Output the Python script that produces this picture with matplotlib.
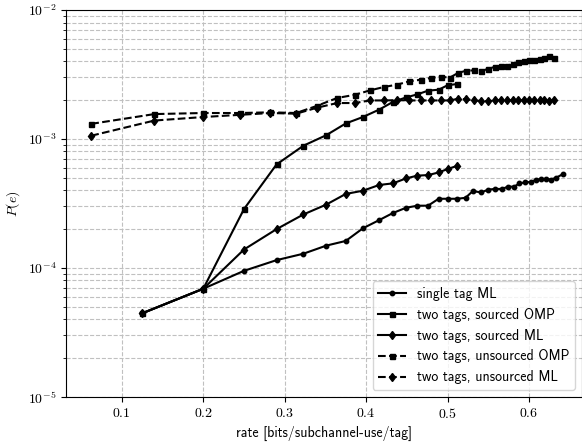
import matplotlib
matplotlib.use('Agg')
import matplotlib.pyplot as plt

plt.rcParams['font.family'] = 'serif'
plt.rcParams['font.serif'] = ['cmr10']
plt.rcParams['mathtext.fontset'] = 'cm'
plt.rcParams['axes.formatter.use_mathtext'] = True

# single tag ML
r_single = [0.125, 0.2, 0.25, 0.29, 0.323, 0.351, 0.375, 0.396, 0.416, 0.433, 0.449,
            0.463, 0.476, 0.489, 0.500, 0.512, 0.522, 0.531, 0.541, 0.550, 0.558,
            0.567, 0.574, 0.582, 0.588, 0.595, 0.602, 0.608, 0.615, 0.621, 0.627,
            0.633, 0.642]
p_single = [4.45e-5, 6.9e-5, 9.5e-5, 1.15e-4, 1.29e-4, 1.49e-4, 1.62e-4, 2.03e-4, 2.35e-4,
            2.67e-4, 2.93e-4, 3.04e-4, 3.04e-4, 3.44e-4, 3.44e-4, 3.44e-4, 3.5e-4, 3.95e-4,
            3.85e-4, 4.05e-4, 4.1e-4, 4.1e-4, 4.27e-4, 4.27e-4, 4.53e-4, 4.6e-4, 4.65e-4,
            4.8e-4, 4.9e-4, 4.9e-4, 4.85e-4, 5.0e-4, 5.36e-4]

# two tags, sourced
r_src = [0.125, 0.2, 0.25, 0.29, 0.323, 0.351, 0.375, 0.396, 0.416, 0.433, 0.449,
         0.463, 0.476, 0.489, 0.500, 0.512]
p_src_omp = [4.45e-5, 6.9e-5, 2.86e-4, 6.35e-4, 8.87e-4, 1.07e-3, 1.32e-3, 1.48e-3, 1.69e-3,
             1.94e-3, 2.1e-3, 2.22e-3, 2.37e-3, 2.41e-3, 2.61e-3, 2.67e-3]
p_src_ml = [4.45e-5, 6.9e-5, 1.39e-4, 2.0e-4, 2.6e-4, 3.1e-4, 3.75e-4, 3.97e-4, 4.4e-4,
            4.53e-4, 4.95e-4, 5.2e-4, 5.25e-4, 5.5e-4, 5.85e-4, 6.2e-4]

# two tags, unsourced
r_uns = [0.0625, 0.14, 0.2, 0.2455, 0.2824, 0.314, 0.34, 0.3644, 0.386, 0.4046, 0.4218,
         0.4382, 0.453, 0.4669, 0.4792, 0.4915, 0.5026, 0.5128, 0.5231, 0.5325, 0.5416,
         0.5497, 0.558, 0.5653, 0.5727, 0.58, 0.5866, 0.5932, 0.5997, 0.6063, 0.6129,
         0.6186, 0.6247, 0.6309]
p_uns_omp = [1.31e-3, 1.56e-3, 1.59e-3, 1.59e-3, 1.61e-3, 1.59e-3, 1.81e-3, 2.08e-3, 2.2e-3,
             2.38e-3, 2.53e-3, 2.64e-3, 2.8e-3, 2.88e-3, 2.97e-3, 3.04e-3, 2.99e-3, 3.25e-3,
             3.39e-3, 3.4e-3, 3.35e-3, 3.51e-3, 3.62e-3, 3.7e-3, 3.7e-3, 3.81e-3, 3.93e-3,
             4.05e-3, 4.1e-3, 4.12e-3, 4.2e-3, 4.25e-3, 4.37e-3, 4.25e-3]
p_uns_ml = [1.06e-3, 1.39e-3, 1.48e-3, 1.54e-3, 1.59e-3, 1.57e-3, 1.75e-3, 1.9e-3, 1.9e-3,
            1.99e-3, 1.99e-3, 2.0e-3, 1.99e-3, 1.99e-3, 1.99e-3, 1.99e-3, 1.99e-3, 2.05e-3,
            2.03e-3, 1.99e-3, 1.97e-3, 1.96e-3, 1.99e-3, 2.0e-3, 1.99e-3, 2.0e-3, 1.99e-3,
            2.0e-3, 1.99e-3, 2.0e-3, 1.99e-3, 2.0e-3, 1.98e-3, 1.99e-3]

fig = plt.figure(figsize=(5.82, 4.45), dpi=100)
ax = fig.add_axes([0.1134, 0.108, 0.8866, 0.8695])

ax.plot(r_single, p_single, 'k-', marker='o', ms=3.2, lw=1.5, label='single tag ML')
ax.plot(r_src, p_src_omp, 'k-', marker='s', ms=3.6, lw=1.5, label='two tags, sourced OMP')
ax.plot(r_src, p_src_ml, 'k-', marker='d', ms=4.5, lw=1.5, label='two tags, sourced ML')
ax.plot(r_uns, p_uns_omp, 'k--', marker='s', ms=3.6, lw=1.5, label='two tags, unsourced OMP')
ax.plot(r_uns, p_uns_ml, 'k--', marker='d', ms=4.5, lw=1.5, label='two tags, unsourced ML')

ax.set_yscale('log')
ax.set_ylim(1e-5, 1e-2)
ax.set_xlim(0.0315, 0.665)
ax.set_xticks([0.1, 0.2, 0.3, 0.4, 0.5, 0.6])
ax.grid(True, which='both', ls='--', color='#c0c0c0', lw=0.8)
ax.tick_params(labelsize=10)

ax.set_xlabel('rate [bits/subchannel-use/tag]', family='cmss10', fontsize=10)
ax.set_ylabel('$P(e)$', fontsize=10)
ax.legend(loc='lower right', prop={'family': 'cmss10', 'size': 10})

plt.savefig('out.png')
